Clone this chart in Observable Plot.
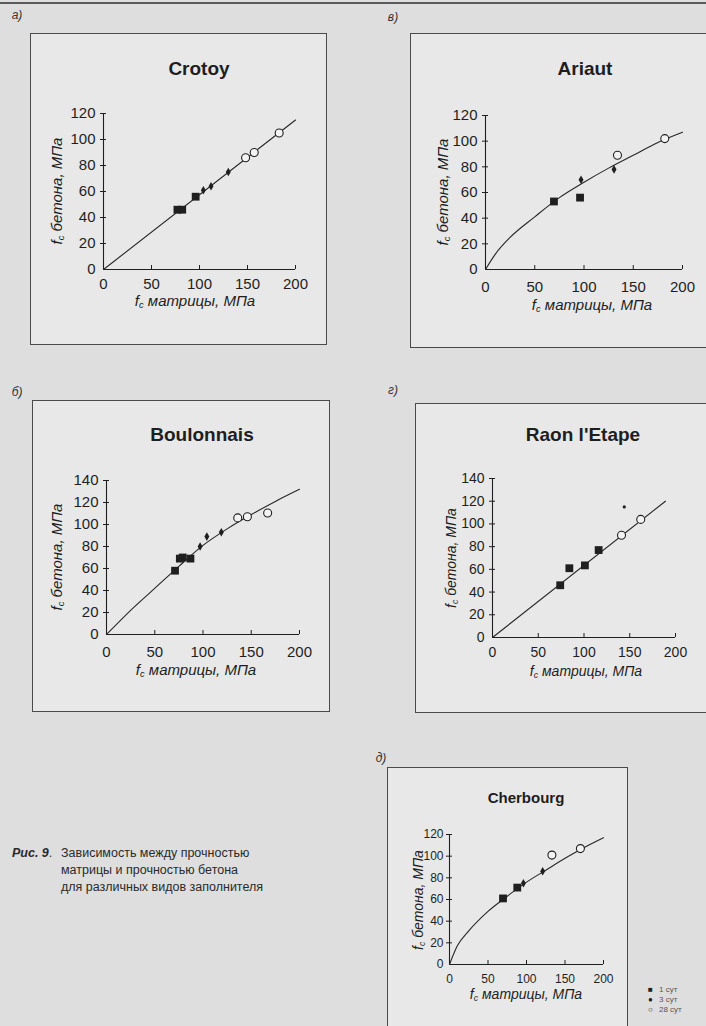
<!DOCTYPE html>
<html><head><meta charset="utf-8">
<script src="https://cdn.jsdelivr.net/npm/d3@7"></script>
<script src="https://cdn.jsdelivr.net/npm/@observablehq/plot@0.6"></script>
<style>
html,body{margin:0;padding:0}
body{width:706px;height:1026px;overflow:hidden;background:#dedede;position:relative;font-family:"Liberation Sans",Arial,sans-serif;color:#1e1e1e}
.box{position:absolute;border:1px solid #4a4a4a;background:#e8e8e8;box-sizing:border-box}
.abs{position:absolute;white-space:nowrap}
.plot{position:absolute}
.ttl{font-weight:bold;transform:translate(-50%,-50%)}
.xl{font-style:italic;transform:translate(-50%,-50%);line-height:1}
.yl{font-style:italic;transform:translate(-50%,-50%) rotate(-90deg);line-height:1}
.pl{font-style:italic;font-size:12px;color:#333;transform:translate(-50%,-50%)}
sub{font-size:0.62em;vertical-align:-0.25em;line-height:0}
.cap{font-size:12.5px;line-height:17px;color:#2a2a2a}
.leg{font-size:8px;line-height:10px;color:#555}
</style>
</head><body>
<div class="abs" style="left:0;top:2px;width:706px;height:2px;background:#5a5a5a"></div>
<script>
// ---------- DATA ----------
const xTicks = [0, 50, 100, 150, 200];
const yTicks120 = [0, 20, 40, 60, 80, 100, 120];
const yTicks140 = [0, 20, 40, 60, 80, 100, 120, 140];

// а) Crotoy
const crotoy1d = [[77, 46], [82, 46], [96, 56]];
const crotoy3d = [[104, 61], [112, 64], [130, 75]];
const crotoy28d = [[148, 86], [157, 90], [183, 105]];
const crotoyFit = [[0, 0], [200, 115]];

// б) Boulonnais
const boul1d = [[71, 58], [76, 69], [79, 70], [87, 69]];
const boul3d = [[97, 80], [104, 89], [119, 93]];
const boul28d = [[136, 106], [146, 107], [167, 110.5]];
const boulFit = [[0, 0], [25, 22], [50, 42], [75, 62], [100, 81], [125, 96], [150, 109], [175, 121], [200, 132]];

// в) Ariaut
const ariaut1d = [[69.5, 53], [96, 56]];
const ariaut3d = [[97, 70], [130.5, 78]];
const ariaut28d = [[134, 89], [182, 102]];
const ariautFit = [[0, 0], [10, 12], [25, 25], [50, 41], [75, 56], [100, 68], [125, 79], [150, 89], [175, 99], [200, 107]];

// г) Raon l'Etape
const raon1d = [[74, 46], [84, 61], [101, 63.5], [116, 77]];
const raon3d = [[144, 115]];
const raon28d = [[141, 90], [162, 104]];
const raonFit = [[0, 0], [189, 120]];

// д) Cherbourg
const cher1d = [[69.5, 61], [88, 71]];
const cher3d = [[96, 75], [121, 86]];
const cher28d = [[133, 101], [170, 107]];
const cherFit = [[0, 0], [10, 17], [25, 31], [50, 49], [75, 63], [100, 76], [125, 87], [150, 98], [175, 108], [200, 117]];

const legendLabels = ["1 сут", "3 сут", "28 сут"];
const panelLetters = ["а)", "б)", "в)", "г)", "д)"];
const titles = ["Crotoy", "Boulonnais", "Ariaut", "Raon l'Etape", "Cherbourg"];
const xLabelText = "матрицы, МПа";
const yLabelText = "бетона, МПа";
const captionHead = "Рис. 9";
const captionLines = ["Зависимость между прочностью", "матрицы и прочностью бетона", "для различных видов заполнителя"];

// ---------- LAYOUT ----------
const panels = [
  {letter: panelLetters[0], title: titles[0], d1: crotoy1d, d3: crotoy3d, d28: crotoy28d, fit: crotoyFit, yTicks: yTicks120, ymax: 120,
   box: [30, 33, 297, 312], m: [80, 32, 76, 73], lab: [17, 15], ttl: [199, 69, 19], xl: [195, 300], yl: [56, 191], tp: 9, ypad: 8, fs: 15, lfs: 15},
  {letter: panelLetters[1], title: titles[1], d1: boul1d, d3: boul3d, d28: boul28d, fit: boulFit, yTicks: yTicks140, ymax: 140,
   box: [32, 400, 298, 312], m: [80, 31, 78, 74], lab: [17, 392], ttl: [202, 435, 19], xl: [196, 669], yl: [56, 557], tp: 12, ypad: 8, fs: 15, lfs: 15},
  {letter: panelLetters[2], title: titles[2], d1: ariaut1d, d3: ariaut3d, d28: ariaut28d, fit: ariautFit, yTicks: yTicks120, ymax: 120,
   box: [410, 33, 310, 315], m: [82, 38, 79, 75], lab: [393, 17], ttl: [585, 69, 19], xl: [592, 304], yl: [442, 192], tp: 12, ypad: 8, fs: 15, lfs: 15},
  {letter: panelLetters[3], title: titles[3], d1: raon1d, d3: raon3d, d28: raon28d, fit: raonFit, yTicks: yTicks140, ymax: 140, small3: true,
   box: [415, 403, 305, 310], m: [75, 45, 76, 77], lab: [393, 390], ttl: [583, 435, 19], xl: [586, 671], yl: [451, 558], tp: 10, ypad: 8, fs: 14, lfs: 14},
  {letter: panelLetters[4], title: titles[4], d1: cher1d, d3: cher3d, d28: cher28d, fit: cherFit, yTicks: yTicks120, ymax: 120,
   box: [387, 767, 241, 270], m: [67, 25, 73, 62], lab: [381, 758], ttl: [526, 797, 15], xl: [526, 994], yl: [418, 900], tp: 10, ypad: 6, fs: 12, lfs: 14}
];

function addDiv(cls, x, y, html, style) {
  const el = document.createElement("div");
  el.className = "abs " + cls;
  el.style.left = x + "px";
  el.style.top = y + "px";
  if (style) el.style.cssText += style;
  el.innerHTML = html;
  document.body.appendChild(el);
  return el;
}

const ink = "#1f1f1f";
for (const p of panels) {
  const [bx, by, bw, bh] = p.box;
  const box = document.createElement("div");
  box.className = "box";
  Object.assign(box.style, {left: bx + "px", top: by + "px", width: bw + "px", height: bh + "px"});
  document.body.appendChild(box);

  const chart = Plot.plot({
    width: bw, height: bh,
    marginTop: p.m[0], marginRight: p.m[1], marginBottom: p.m[2], marginLeft: p.m[3],
    x: {domain: [0, 200]},
    y: {domain: [0, p.ymax]},
    style: {background: "transparent", fontFamily: "Liberation Sans, Arial, sans-serif", fontSize: p.fs + "px", color: ink, overflow: "visible"},
    marks: [
      Plot.axisX({ticks: xTicks, tickSize: 0, tickPadding: p.tp, label: null, tickFormat: d => String(d)}),
      Plot.axisY({ticks: p.yTicks, tickSize: 0, tickPadding: p.ypad, label: null, tickFormat: d => String(d)}),
      Plot.ruleX([0], {y1: 0, y2: p.ymax, stroke: ink, strokeWidth: 1.1}),
      Plot.ruleY([0], {x1: 0, x2: 200, stroke: ink, strokeWidth: 1.1}),
      Plot.ruleX(xTicks.slice(1), {x: d => d, y1: 0, y2: 0, insetTop: -4, stroke: ink}),
      Plot.ruleY(p.yTicks.slice(1), {y: d => d, x1: 0, x2: 0, insetLeft: -3, insetRight: -3, stroke: ink}),
      Plot.line(p.fit, {x: d => d[0], y: d => d[1], curve: "monotone-x", stroke: "#262626", strokeWidth: 1.1}),
      Plot.dot(p.d1, {x: d => d[0], y: d => d[1], symbol: "square", r: 4.4, fill: ink}),
      Plot.dot(p.d3, {x: d => d[0], y: d => d[1], symbol: p.small3 ? "circle" : "diamond", r: p.small3 ? 1.6 : 2.6, fill: ink}),
      Plot.dot(p.d28, {x: d => d[0], y: d => d[1], symbol: "circle", r: 4, fill: "#f3f3f3", stroke: ink, strokeWidth: 1.1})
    ]
  });
  chart.classList.add("plot");
  chart.style.left = bx + "px";
  chart.style.top = by + "px";
  document.body.appendChild(chart);

  addDiv("pl", p.lab[0], p.lab[1], p.letter);
  addDiv("ttl", p.ttl[0], p.ttl[1], p.title, "font-size:" + p.ttl[2] + "px");
  addDiv("xl", p.xl[0], p.xl[1], "f<sub>c</sub> " + xLabelText, "font-size:" + p.lfs + "px");
  addDiv("yl", p.yl[0], p.yl[1], "f<sub>c</sub> " + yLabelText, "font-size:" + p.lfs + "px");
}

// caption
addDiv("cap", 12, 845, "<b><i>" + captionHead + "</i></b>.");
addDiv("cap", 61, 845, captionLines.join("<br>"));

// legend (Cherbourg)
const legendSymbols = ["■", "●", "○"];
addDiv("leg", 648, 985, legendLabels.map((t, i) => '<span style="color:#222;display:inline-block;width:11px">' + legendSymbols[i] + "</span>" + t).join("<br>"));
</script>
</body></html>
